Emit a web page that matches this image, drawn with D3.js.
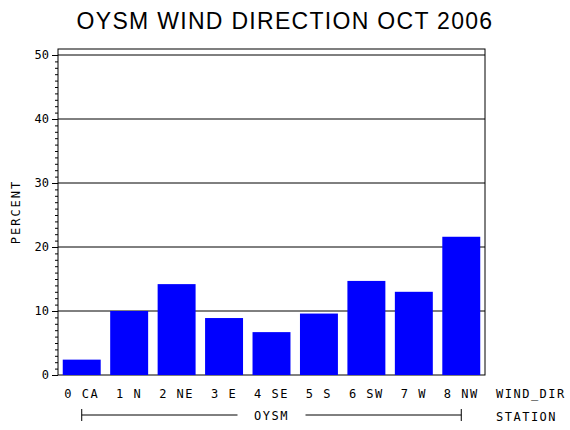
<!DOCTYPE html><html><head><script src="https://cdn.jsdelivr.net/npm/d3@7"></script>
<style>body{margin:0;background:#fff}text{font-family:"DejaVu Sans Mono",monospace}</style></head><body>
<script>
const categories=["0 CA","1 N","2 NE","3 E","4 SE","5 S","6 SW","7 W","8 NW"];
const values=[2.4,10.0,14.2,8.9,6.7,9.6,14.7,13.0,21.6];
const yTicks=[0,10,20,30,40,50];
const W=570,H=430,L=58,R=485,T=49,B=375;
const svg=d3.select("body").append("svg").attr("width",W).attr("height",H);
const x=d3.scaleBand().domain(categories).range([L,R]).paddingInner(0.2).paddingOuter(0.1);
const y=d3.scaleLinear().domain([0,50]).range([B,55]);
svg.append("text").attr("x",285).attr("y",29).attr("text-anchor","middle").style("font-family","Liberation Sans,Arial").attr("font-size",23).attr("letter-spacing",1.3).text("OYSM WIND DIRECTION OCT 2006");
svg.selectAll(".g").data(yTicks.slice(1)).enter().append("line").attr("x1",L).attr("x2",R).attr("y1",d=>y(d)).attr("y2",d=>y(d)).attr("stroke","#000");
svg.append("rect").attr("x",L).attr("y",T).attr("width",R-L).attr("height",B-T).attr("fill","none").attr("stroke","#000");
svg.selectAll(".b").data(values).enter().append("rect").attr("x",(d,i)=>x(categories[i])).attr("width",x.bandwidth()).attr("y",d=>y(d)).attr("height",d=>B-y(d)).attr("fill","#0000ff");
const ya=svg.append("g").attr("transform",`translate(${L},0)`).call(d3.axisLeft(y).tickValues(yTicks).tickSize(6).tickPadding(3));
ya.select(".domain").remove();
ya.selectAll("text").attr("font-size",12).style("font-family","DejaVu Sans Mono");
svg.append("g").attr("transform",`translate(${L},0)`).call(d3.axisLeft(y).ticks(50).tickSize(3).tickFormat("")).select(".domain").remove();
svg.append("text").attr("transform","translate(20,212) rotate(-90)").attr("text-anchor","middle").attr("font-size",12).attr("letter-spacing",2).text("PERCENT");
svg.selectAll(".c").data(categories).enter().append("text").attr("x",d=>x(d)+x.bandwidth()/2).attr("y",398).attr("text-anchor","middle").attr("font-size",12).attr("letter-spacing",1.5).text(d=>d.replace(" ","  "));
svg.append("text").attr("x",496).attr("y",398).attr("font-size",12).attr("letter-spacing",1.5).text("WIND_DIR");
svg.append("text").attr("x",496).attr("y",421).attr("font-size",12).attr("letter-spacing",1.5).text("STATION");
const x0=x(categories[0])+x.bandwidth()/2,x1=x(categories[8])+x.bandwidth()/2;
svg.append("line").attr("x1",x0).attr("x2",x1).attr("y1",415).attr("y2",415).attr("stroke","#000");
[x0,x1].forEach(v=>svg.append("line").attr("x1",v).attr("x2",v).attr("y1",409).attr("y2",421).attr("stroke","#000"));
svg.append("rect").attr("x",(x0+x1)/2-34).attr("y",408).attr("width",68).attr("height",14).attr("fill","#fff");
svg.append("text").attr("x",(x0+x1)/2).attr("y",420).attr("text-anchor","middle").attr("font-size",12).attr("letter-spacing",1.5).text("OYSM");
</script></body></html>
